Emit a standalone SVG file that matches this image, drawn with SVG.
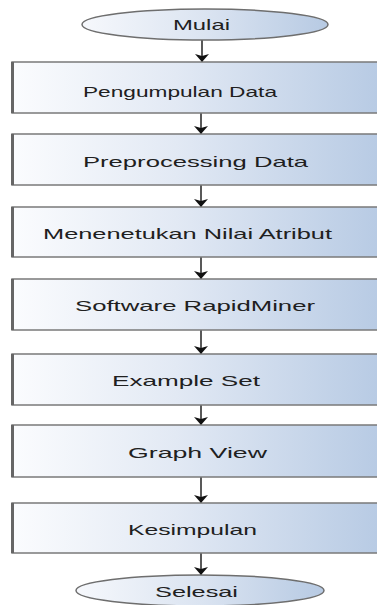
<svg xmlns="http://www.w3.org/2000/svg" width="377" height="605" viewBox="0 0 377 605">
<defs>
<linearGradient id="gBox" gradientUnits="userSpaceOnUse" x1="12" y1="0" x2="377" y2="0">
<stop offset="0" stop-color="#fbfcfe"/>
<stop offset="0.45" stop-color="#e2e9f4"/>
<stop offset="1" stop-color="#b8cbe4"/>
</linearGradient>
<linearGradient id="gEl" x1="0" y1="0" x2="1" y2="0">
<stop offset="0" stop-color="#f6f8fc"/>
<stop offset="0.5" stop-color="#dbe4f1"/>
<stop offset="1" stop-color="#b7cae3"/>
</linearGradient>
<marker id="ah" markerWidth="8" markerHeight="14" refX="8" refY="7" orient="auto" markerUnits="userSpaceOnUse" viewBox="0 0 8 14">
<path d="M0,0 L8,7 L0,14 L2,7 Z" fill="#111"/>
</marker>
<style>
.box{fill:url(#gBox);stroke:#7a7a7a;stroke-width:1.5}
.edge{stroke:#666;stroke-width:3}
.el{fill:url(#gEl);stroke:#6e6e6e;stroke-width:1.5}
.t{font-family:"Liberation Sans",Arial,sans-serif;font-size:15px;fill:#202020}
.c{stroke:#222;stroke-width:1.5;fill:none;marker-end:url(#ah)}
</style>
</defs>
<g id="connectors">
<line class="c" x1="202" y1="40" x2="202" y2="62"/>
<line class="c" x1="201" y1="113" x2="201" y2="134"/>
<line class="c" x1="201" y1="185" x2="201" y2="207"/>
<line class="c" x1="201" y1="257" x2="201" y2="279"/>
<line class="c" x1="201" y1="330" x2="201" y2="354"/>
<line class="c" x1="201" y1="405" x2="201" y2="425"/>
<line class="c" x1="201" y1="477" x2="201" y2="503"/>
<line class="c" x1="201" y1="553" x2="201" y2="575"/>
</g>
<g id="mulai">
<ellipse class="el" cx="205" cy="24.5" rx="123" ry="15.5"/>
<text class="t" x="173" y="30" textLength="57" lengthAdjust="spacingAndGlyphs">Mulai</text>
</g>
<g id="pengumpulan">
<rect class="box" x="12" y="62" width="380" height="51"/>
<line class="edge" x1="12.5" y1="62" x2="12.5" y2="113"/>
<text class="t" x="83" y="97" textLength="194" lengthAdjust="spacingAndGlyphs">Pengumpulan Data</text>
</g>
<g id="preprocessing">
<rect class="box" x="12" y="134" width="380" height="51"/>
<line class="edge" x1="12.5" y1="134" x2="12.5" y2="185"/>
<text class="t" x="83" y="167" textLength="225" lengthAdjust="spacingAndGlyphs">Preprocessing Data</text>
</g>
<g id="menentukan">
<rect class="box" x="12" y="207" width="380" height="50"/>
<line class="edge" x1="12.5" y1="207" x2="12.5" y2="257"/>
<text class="t" x="43" y="239" textLength="289" lengthAdjust="spacingAndGlyphs">Menenetukan Nilai Atribut</text>
</g>
<g id="software">
<rect class="box" x="12" y="279" width="380" height="51"/>
<line class="edge" x1="12.5" y1="279" x2="12.5" y2="330"/>
<text class="t" x="75" y="311" textLength="240" lengthAdjust="spacingAndGlyphs">Software RapidMiner</text>
</g>
<g id="example">
<rect class="box" x="12" y="354" width="380" height="51"/>
<line class="edge" x1="12.5" y1="354" x2="12.5" y2="405"/>
<text class="t" x="112" y="386" textLength="148" lengthAdjust="spacingAndGlyphs">Example Set</text>
</g>
<g id="graph">
<rect class="box" x="12" y="425" width="380" height="52"/>
<line class="edge" x1="12.5" y1="425" x2="12.5" y2="477"/>
<text class="t" x="128" y="458" textLength="139" lengthAdjust="spacingAndGlyphs">Graph View</text>
</g>
<g id="kesimpulan">
<rect class="box" x="12" y="503" width="380" height="50"/>
<line class="edge" x1="12.5" y1="503" x2="12.5" y2="553"/>
<text class="t" x="128" y="535" textLength="129" lengthAdjust="spacingAndGlyphs">Kesimpulan</text>
</g>
<g id="selesai">
<ellipse class="el" cx="200" cy="590.5" rx="124" ry="15.5"/>
<text class="t" x="155" y="597" textLength="83" lengthAdjust="spacingAndGlyphs">Selesai</text>
</g>
</svg>
